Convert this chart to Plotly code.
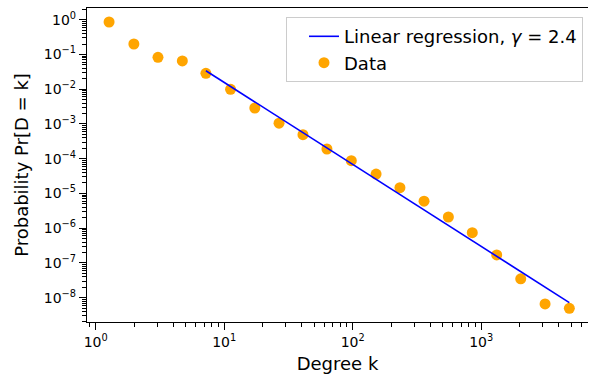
import plotly.graph_objects as go

# Data
degree_k = [1.27, 1.98, 3.05, 4.72, 7.2, 11.2, 17.3, 26.7, 41, 63, 97.5, 152, 233, 359,
            555, 852, 1320, 2030, 3140, 4850]
prob = [0.86, 0.2, 0.083, 0.065, 0.0286, 0.0099, 0.00288, 0.00105, 4.9e-4, 1.9e-4,
        8.75e-5, 3.6e-5, 1.47e-5, 6.0e-6, 2.1e-6, 7.4e-7, 1.7e-7, 3.5e-8, 6.6e-9, 4.95e-9]

# Regression line endpoints
line_k = [7.2, 4850]
line_p = [0.034, 7.2e-9]

x_major = [1, 10, 100, 1000]
x_major_text = ["10<sup>0</sup>", "10<sup>1</sup>", "10<sup>2</sup>", "10<sup>3</sup>"]
y_exps = [0, -1, -2, -3, -4, -5, -6, -7, -8]

FONT = "DejaVu Sans"

x_minor = [m * 10 ** e for e in range(-1, 4) for m in range(2, 10)]
y_minor = [m * 10.0 ** e for e in range(-9, 1) for m in range(2, 10)]

fig = go.Figure()
fig.add_trace(go.Scatter(
    x=degree_k, y=prob, mode="markers", name="Data",
    marker=dict(color="#FFA500", size=11, line=dict(width=0)),
    legendrank=2, legendgroup="b",
))
fig.add_trace(go.Scatter(
    x=line_k, y=line_p, mode="lines", name="Linear regression, <i>γ</i> = 2.4",
    line=dict(color="#0000FF", width=1.6),
    legendrank=1, legendgroup="a",
))

fig.update_layout(
    width=589, height=380,
    margin=dict(l=87, r=1, t=8, b=58),
    plot_bgcolor="white", paper_bgcolor="white",
    font=dict(family=FONT, color="black", size=14),
    legend=dict(
        x=0.99, y=0.971, xanchor="right", yanchor="top",
        bordercolor="#cccccc", borderwidth=1, bgcolor="rgba(255,255,255,0.8)",
        font=dict(size=18, family=FONT),
        traceorder="grouped", tracegroupgap=0, indentation=17,
    ),
)
fig.update_xaxes(
    type="log", range=[-0.068, 3.831],
    showgrid=False, zeroline=False,
    showline=True, linecolor="black", linewidth=1.3, mirror=True,
    ticks="outside", ticklen=7, tickwidth=1.3, tickcolor="black",
    tickmode="array", tickvals=x_major, ticktext=x_major_text,
    tickfont=dict(size=14),
    minor=dict(ticks="outside", ticklen=4, tickwidth=1, tickcolor="black",
               tickmode="array", tickvals=x_minor, showgrid=False),
    title=dict(text="Degree k", font=dict(size=18), standoff=8),
)
fig.update_yaxes(
    type="log", range=[-8.70, 0.337],
    showgrid=False, zeroline=False,
    showline=True, linecolor="black", linewidth=1.3,
    ticks="outside", ticklen=7, tickwidth=1.3, tickcolor="black",
    tickmode="array", tickvals=[10.0 ** e for e in y_exps],
    ticktext=["10<sup>%s</sup>" % (str(e).replace("-", "−")) for e in y_exps],
    tickfont=dict(size=14),
    minor=dict(ticks="outside", ticklen=4, tickwidth=1, tickcolor="black",
               tickmode="array", tickvals=y_minor, showgrid=False),
    title=dict(text="Probability Pr[D = k]", font=dict(size=18), standoff=10),
)

fig.write_html("out.html")
